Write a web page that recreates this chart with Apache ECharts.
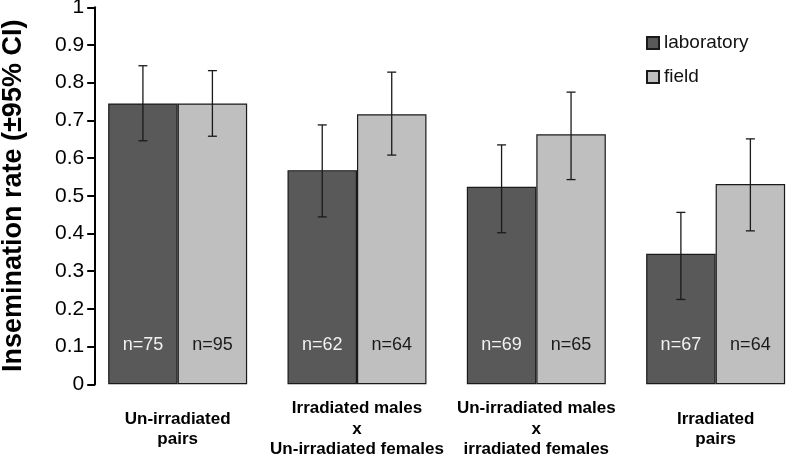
<!DOCTYPE html>
<html>
<head>
<meta charset="utf-8">
<script src="https://cdn.jsdelivr.net/npm/echarts@6/dist/echarts.min.js"></script>
<style>
  html, body { margin: 0; padding: 0; background: #ffffff; }
  #chart { width: 787px; height: 456px; }
</style>
</head>
<body>
<div id="chart"></div>
<script>
// ---- data ----
const categories = [
  'Un-irradiated\npairs',
  'Irradiated males\nx\nUn-irradiated females',
  'Un-irradiated males\nx\nirradiated females',
  'Irradiated\npairs'
];
const seriesNames = ['laboratory', 'field'];
const labValues   = [0.745, 0.568, 0.524, 0.346];
const fieldValues = [0.745, 0.716, 0.663, 0.531];
const labLow      = [0.646, 0.444, 0.402, 0.225];
const labHigh     = [0.845, 0.688, 0.635, 0.456];
const fieldLow    = [0.658, 0.608, 0.543, 0.407];
const fieldHigh   = [0.832, 0.828, 0.775, 0.651];
const labN        = [75, 62, 69, 67];
const fieldN      = [95, 64, 65, 64];
const yMin = 0, yMax = 1, yInterval = 0.1;

// ---- chart ----
const FONT = '"Liberation Sans", Arial, sans-serif';
const CAT_GAP = 0.225;

const errData = [];
labLow.forEach((v, i) => errData.push([i, labLow[i], labHigh[i], -1]));
fieldLow.forEach((v, i) => errData.push([i, fieldLow[i], fieldHigh[i], 1]));

function renderErr(params, api) {
  const idx = api.value(0);
  const lo = api.coord([idx, api.value(1)]);
  const hi = api.coord([idx, api.value(2)]);
  const side = api.value(3);
  const band = api.size([1, 0])[0];
  const bw = band * (1 - CAT_GAP) / 2;
  const x = lo[0] + side * bw / 2;
  const cap = 4.5;
  const st = { stroke: '#1a1a1a', lineWidth: 1.3 };
  return {
    type: 'group',
    children: [
      { type: 'line', shape: { x1: x, y1: hi[1], x2: x, y2: lo[1] }, style: st },
      { type: 'line', shape: { x1: x - cap, y1: hi[1], x2: x + cap, y2: hi[1] }, style: st },
      { type: 'line', shape: { x1: x - cap, y1: lo[1], x2: x + cap, y2: lo[1] }, style: st }
    ]
  };
}

const chart = echarts.init(document.getElementById('chart'), null, { renderer: 'canvas' });
chart.setOption({
  animation: false,
  backgroundColor: '#ffffff',
  textStyle: { fontFamily: FONT },
  grid: { left: 88, top: 7.3, width: 717.3, height: 377, containLabel: false, outerBoundsMode: 'none' },
  legend: {
    data: seriesNames,
    orient: 'vertical',
    left: 646,
    top: 33.5,
    padding: 0,
    itemWidth: 12,
    itemHeight: 12,
    itemGap: 15,
    icon: 'rect',
    textStyle: { fontFamily: FONT, fontSize: 19, color: '#111' }
  },
  xAxis: {
    type: 'category',
    data: categories,
    axisLine: { show: false },
    axisTick: { show: false },
    axisLabel: {
      interval: 0,
      fontFamily: FONT,
      fontWeight: 'bold',
      fontSize: 17,
      lineHeight: 20.5,
      color: '#000',
      verticalAlign: 'middle',
      margin: 45
    }
  },
  yAxis: {
    type: 'value',
    min: yMin,
    max: yMax,
    interval: yInterval,
    offset: -7.2,
    name: 'Insemination rate (±95% CI)',
    nameLocation: 'middle',
    nameRotate: 90,
    nameGap: 68,
    nameTextStyle: { fontFamily: FONT, fontWeight: 'bold', fontSize: 27, color: '#000' },
    axisLine: { show: true, lineStyle: { color: '#000', width: 2 } },
    axisTick: { show: true, inside: false, length: 8, lineStyle: { color: '#000', width: 2 } },
    splitLine: { show: false },
    axisLabel: { fontFamily: FONT, fontSize: 21, color: '#000', margin: 11 }
  },
  series: [
    {
      name: seriesNames[0],
      type: 'bar',
      data: labValues,
      barGap: '0%',
      barCategoryGap: (CAT_GAP * 100) + '%',
      itemStyle: { color: '#595959', borderColor: '#1a1a1a', borderWidth: 1.2 },
      label: {
        show: true,
        position: 'insideBottom',
        distance: 30,
        fontFamily: FONT,
        fontSize: 18,
        color: '#f2f2f2',
        formatter: p => 'n=' + labN[p.dataIndex]
      },
      z: 2
    },
    {
      name: seriesNames[1],
      type: 'bar',
      data: fieldValues,
      barGap: '0%',
      barCategoryGap: (CAT_GAP * 100) + '%',
      itemStyle: { color: '#bfbfbf', borderColor: '#1a1a1a', borderWidth: 1.2 },
      label: {
        show: true,
        position: 'insideBottom',
        distance: 30,
        fontFamily: FONT,
        fontSize: 18,
        color: '#1a1a1a',
        formatter: p => 'n=' + fieldN[p.dataIndex]
      },
      z: 2
    },
    {
      type: 'custom',
      renderItem: renderErr,
      data: errData,
      encode: { x: 0, y: [1, 2] },
      z: 5,
      silent: true
    }
  ]
});
</script>
</body>
</html>
